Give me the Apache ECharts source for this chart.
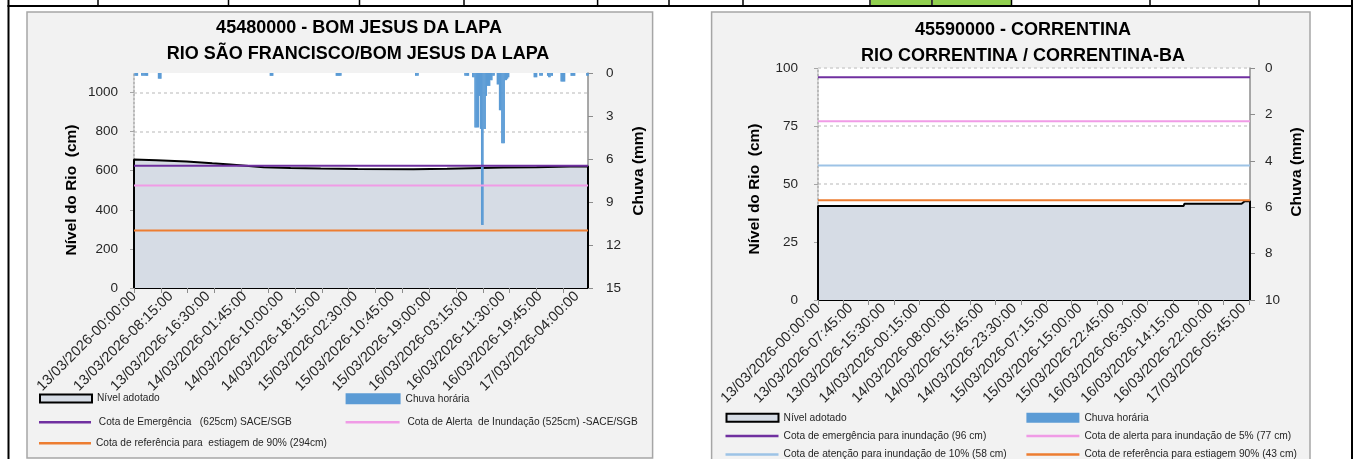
<!DOCTYPE html>
<html><head><meta charset="utf-8">
<script src="https://cdn.jsdelivr.net/npm/echarts@6.0.0/dist/echarts.min.js"></script>
<style>html,body{margin:0;padding:0;background:#fff;}#c{width:1356px;height:459px;}</style>
</head><body><div id="c"></div>
<script>
// ================= DATA =================
// Time axis: 15-minute readings from 13/03/2026 00:00, one hour (4 readings) missing on the evening of 13/03
const START_UTC = Date.UTC(2026, 2, 13, 0, 0);
const STEP_MINUTES = 15;
const GAP_AT_INDEX = 80;
const GAP_SLOTS = 4;
const N_LAPA = 407;
const N_CORR = 410;

function buildTimes(n) {
  const p = v => String(v).padStart(2, '0');
  const out = [];
  for (let i = 0; i < n; i++) {
    const slot = i < GAP_AT_INDEX ? i : i + GAP_SLOTS;
    const d = new Date(START_UTC + slot * STEP_MINUTES * 60000);
    out.push(p(d.getUTCDate()) + '/' + p(d.getUTCMonth() + 1) + '/' + d.getUTCFullYear() + '-' +
             p(d.getUTCHours()) + ':' + p(d.getUTCMinutes()) + ':00');
  }
  return out;
}
const timesLapa = buildTimes(N_LAPA);
const timesCorr = buildTimes(N_CORR);

// 45480000 - Bom Jesus da Lapa : Nível adotado (cm), [reading index, value]
const nivelLapa = [[0,657],[20,653],[47,647],[70,638],[86,632],[100,626],[116,618],[140,614],[167,611],
  [200,609],[250,608],[280,610],[301,613],[330,616],[360,618],[390,621],[406,623]];
// Chuva horária (mm), [reading index, value]
const chuvaLapa = [
  [1,0.2],[2,0.2],[3,0.2],
  [7,0.2],[8,0.2],[9,0.2],[10,0.2],[11,0.2],[12,0.2],
  [22,0.4],[23,0.4],[24,0.4],
  [122,0.2],[123,0.2],[124,0.2],
  [181,0.2],[182,0.2],[183,0.2],[184,0.2],[185,0.2],
  [252,0.2],[253,0.2],[254,0.2],
  [296,0.2],[297,0.2],[298,0.2],[299,0.2],
  [303,0.3],[304,0.3],[305,3.8],[306,3.8],[307,3.8],[308,3.8],[309,1.6],[310,3.9],[311,10.6],[312,10.6],
  [313,3.9],[314,3.9],[315,1.6],[316,0.9],[317,0.9],[318,0.9],[319,0.5],[320,0.5],[321,0.2],[322,0.2],
  [325,0.8],[326,0.8],[327,2.6],[328,2.6],[329,4.9],[330,4.9],[331,4.9],[332,0.5],[333,0.5],[334,0.4],[335,0.3],
  [358,0.3],[359,0.3],[360,0.3],
  [363,0.2],[364,0.2],[365,0.2],
  [370,0.2],[371,0.3],[372,0.3],[373,0.2],[374,0.2],
  [382,0.6],[383,0.6],[384,0.6],[385,0.6],
  [391,0.2],[392,0.2],[393,0.2],[394,0.2],
  [405,0.2],[406,0.2]
];
const cotasLapa = [625, 525, 294];
const cotasLapaNomes = [' Cota de Emergência   (625cm) SACE/SGB', ' Cota de Alerta  de Inundação (525cm) -SACE/SGB',
  'Cota de referência para  estiagem de 90% (294cm)'];
const nivelLapaTicks = [0, 1100, 200];   // min, max, interval
const chuvaLapaTicks = [0, 15, 3];

// 45590000 - Correntina
const nivelCorr = [[0,40.5],[346,40.5],[347,41.5],[401,41.5],[402,42.0],[404,42.6],[409,42.6]];
const chuvaCorr = [];
const cotasCorr = [96, 77, 58, 43];
const cotasCorrNomes = ['Cota de emergência para inundação (96 cm)', 'Cota de alerta para inundação de 5% (77 cm)',
  'Cota de atenção para inundação de 10% (58 cm)', 'Cota de referência para estiagem 90% (43 cm)'];
const nivelCorrTicks = [0, 100, 25];
const chuvaCorrTicks = [0, 10, 2];

const NIVEL = 'Nível adotado';
const CHUVA = 'Chuva horária';

// ================= STYLE =================
const C_AREA = '#d6dce5', C_RAIN = '#5b9bd5';
const colorsLapa = ['#7030a0', '#f09be6', '#ed7d31'];
const colorsCorr = ['#7030a0', '#f09be6', '#9dc3e6', '#ed7d31'];
const FONT = 'Liberation Sans';

function textWidth(txt, font) { const c = document.createElement('canvas').getContext('2d'); c.font = font; return c.measureText(txt).width; }
function hasFont(name) { const t = 'abcdefghijklmnopqrstuvwxyzABCDEFGHIJ0123456789'; return textWidth(t, '40px monospace') !== textWidth(t, '40px "' + name + '", monospace'); }
const LEG_FAMILY = hasFont('Liberation Sans Narrow') ? 'Liberation Sans Narrow' : FONT;
const legSizeLapa = 230.7 * 100 / textWidth('Cota de Alerta  de Inundação (525cm) -SACE/SGB', '100px "' + LEG_FAMILY + '"');
const legSizeCorr = 207 * 100 / textWidth('Cota de alerta para inundação de 5% (77 cm)', '100px "' + LEG_FAMILY + '"');

function outline(pts) { // closes the Excel-style area outline down to the axis at both ends
  return [[pts[0][0], 0]].concat(pts).concat([[pts[pts.length - 1][0], 0]]);
}

function xAxisOpt(grid, data, labelInterval) {
  return {
    type: 'category', gridIndex: grid, data: data, boundaryGap: false,
    axisLine: { show: true, onZero: false, lineStyle: { color: '#000', width: 2 } },
    axisTick: { show: true, interval: 23, length: 5, lineStyle: { color: '#8c8c8c', width: 1 } },
    axisLabel: { interval: labelInterval, rotate: 45, margin: 6, fontSize: 14.5, fontFamily: FONT, color: '#262626' },
    splitLine: { show: false }
  };
}
function yLeft(grid, t, margin, showMax) {
  return {
    type: 'value', gridIndex: grid, position: 'left', min: t[0], max: t[1], interval: t[2],
    axisLine: { show: true, lineStyle: { color: '#a6a6a6', type: [2, 2], width: 1.5 } },
    axisTick: { show: true, length: 4, lineStyle: { color: '#a6a6a6' } },
    axisLabel: { margin: margin, fontSize: 13.5, fontFamily: FONT, color: '#262626', showMaxLabel: showMax, formatter: v => String(v) },
    splitLine: { show: true, showMaxLine: showMax, showMinLine: false, lineStyle: { color: '#cfcfcf', type: [3, 3], width: 1.5 } }
  };
}
function yRight(grid, t, margin) {
  return {
    type: 'value', gridIndex: grid, position: 'right', inverse: true, min: t[0], max: t[1], interval: t[2],
    axisLine: { show: true, lineStyle: { color: '#8c8c8c', width: 1.5 } },
    axisTick: { show: true, length: 5, lineStyle: { color: '#8c8c8c' } },
    axisLabel: { margin: margin, fontSize: 13.5, fontFamily: FONT, color: '#262626', formatter: v => String(v) },
    splitLine: { show: false }
  };
}

const series = [];
function addStation(xi, yl, yr, nivel, chuva, cotas, nomes, colors, n) {
  series.push({ name: NIVEL, type: 'line', xAxisIndex: xi, yAxisIndex: yl, data: outline(nivel), symbol: 'none',
    lineStyle: { color: '#000', width: 2 }, itemStyle: { color: '#000' }, areaStyle: { color: C_AREA, opacity: 1 }, z: 2, silent: true });
  series.push({ name: CHUVA, type: 'bar', xAxisIndex: xi, yAxisIndex: yr, data: chuva, barWidth: 1.6,
    itemStyle: { color: C_RAIN }, z: 3, silent: true });
  cotas.forEach((v, i) => series.push({ name: nomes[i], type: 'line', xAxisIndex: xi, yAxisIndex: yl,
    data: [[0, v], [n - 1, v]], symbol: 'none', lineStyle: { color: colors[i], width: 2 }, itemStyle: { color: colors[i] }, z: 4, silent: true }));
}
addStation(0, 0, 1, nivelLapa, chuvaLapa, cotasLapa, cotasLapaNomes, colorsLapa, N_LAPA);
addStation(1, 2, 3, nivelCorr, chuvaCorr, cotasCorr, cotasCorrNomes, colorsCorr, N_CORR);

function mkLegend(name, x, cy, w, h, itemStyle, size) {
  return { show: true, orient: 'horizontal', left: x, top: cy - 7, padding: 0, itemGap: 0, itemWidth: w, itemHeight: h,
    selectedMode: false, icon: 'rect', data: [{ name: name, icon: 'rect', itemStyle: itemStyle }],
    textStyle: { fontFamily: LEG_FAMILY, fontSize: size, color: '#262626', lineHeight: 14 } };
}
const boxStyle = { color: C_AREA, borderColor: '#000', borderWidth: 2 };
const rainStyle = { color: C_RAIN, borderWidth: 0 };
const ls = c => ({ color: c, borderWidth: 0 });
const legends = [
  mkLegend(NIVEL, 39, 398.5, 52, 8, boxStyle, legSizeLapa),
  mkLegend(CHUVA, 345.6, 398.7, 55, 11, rainStyle, legSizeLapa),
  mkLegend(cotasLapaNomes[0], 39, 422.3, 52, 2.5, ls(colorsLapa[0]), legSizeLapa),
  mkLegend(cotasLapaNomes[1], 345.6, 422.3, 54, 2.5, ls(colorsLapa[1]), legSizeLapa),
  mkLegend(cotasLapaNomes[2], 39, 443.3, 52, 2.5, ls(colorsLapa[2]), legSizeLapa),
  mkLegend(NIVEL, 725.5, 417.8, 52, 8, boxStyle, legSizeCorr),
  mkLegend(CHUVA, 1026.4, 417.8, 53, 10, rainStyle, legSizeCorr),
  mkLegend(cotasCorrNomes[0], 725.5, 436, 53, 2.5, ls(colorsCorr[0]), legSizeCorr),
  mkLegend(cotasCorrNomes[1], 1026.4, 436, 53, 2.5, ls(colorsCorr[1]), legSizeCorr),
  mkLegend(cotasCorrNomes[2], 725.5, 454.5, 53, 2.5, ls(colorsCorr[2]), legSizeCorr),
  mkLegend(cotasCorrNomes[3], 1026.4, 454.5, 53, 2.5, ls(colorsCorr[3]), legSizeCorr)
];

function txt(t, x, y, size, rot) {
  return { type: 'text', x: x, y: y, rotation: rot || 0, z: 50, silent: true,
    style: { text: t, x: 0, y: 0, fill: '#000', font: 'bold ' + size + 'px "' + FONT + '"',
      align: 'center', verticalAlign: 'middle', textAlign: 'center', textVerticalAlign: 'middle' } };
}
function rect(x, y, w, h, fill, z, stroke) {
  const el = { type: 'rect', silent: true, z: z, shape: { x: x, y: y, width: w, height: h }, style: { fill: fill } };
  if (stroke) { el.style.stroke = stroke; el.style.lineWidth = 1.5; }
  return el;
}
const frame = [
  rect(27, 12, 625.6, 446, '#f2f2f2', -100, '#a6a6a6'),
  rect(711.6, 12, 598.4, 460, '#f2f2f2', -100, '#a6a6a6'),
  rect(871, 0, 60.5, 5, '#92d050', 100),
  rect(933, 0, 78.5, 5, '#92d050', 100),
  rect(7.5, 0, 2, 459, '#000', 100),
  rect(1351, 0, 2, 459, '#000', 100),
  rect(7.5, 5, 1345.5, 2, '#000', 100)
];
[98, 228.5, 359.5, 464, 597.6, 669, 743, 870, 932, 1011.5, 1150, 1259].forEach(x => frame.push(rect(x - 0.75, 0, 1.5, 5.5, '#000', 100)));
frame.push(
  txt('45480000 - BOM JESUS DA LAPA', 359, 28.5, 18),
  txt('RIO SÃO FRANCISCO/BOM JESUS DA LAPA', 358, 54.5, 18),
  txt('45590000 - CORRENTINA', 1023, 30, 18),
  txt('RIO CORRENTINA / CORRENTINA-BA', 1023, 56.5, 18),
  txt('Nível do Rio  (cm)', 71.7, 190, 15.5, Math.PI / 2),
  txt('Chuva (mm)', 639, 171, 15.5, Math.PI / 2),
  txt('Nível do Rio  (cm)', 755, 189, 15.5, Math.PI / 2),
  txt('Chuva (mm)', 1296.5, 172, 15.5, Math.PI / 2)
);

const option = {
  animation: false,
  backgroundColor: '#ffffff',
  textStyle: { fontFamily: FONT },
  grid: [
    { left: 134, top: 73, width: 454, height: 215, show: true, backgroundColor: '#fff', borderWidth: 0, containLabel: false, outerBoundsMode: 'none' },
    { left: 818, top: 68, width: 432, height: 232, show: true, backgroundColor: '#fff', borderWidth: 0, containLabel: false, outerBoundsMode: 'none' }
  ],
  xAxis: [xAxisOpt(0, timesLapa, 32), xAxisOpt(1, timesCorr, 30)],
  yAxis: [yLeft(0, nivelLapaTicks, 16, false), yRight(0, chuvaLapaTicks, 18), yLeft(1, nivelCorrTicks, 20, true), yRight(1, chuvaCorrTicks, 15)],
  legend: legends,
  series: series,
  graphic: { elements: frame }
};
const chart = echarts.init(document.getElementById('c'), null, { renderer: 'canvas' });
chart.setOption(option);
</script></body></html>
